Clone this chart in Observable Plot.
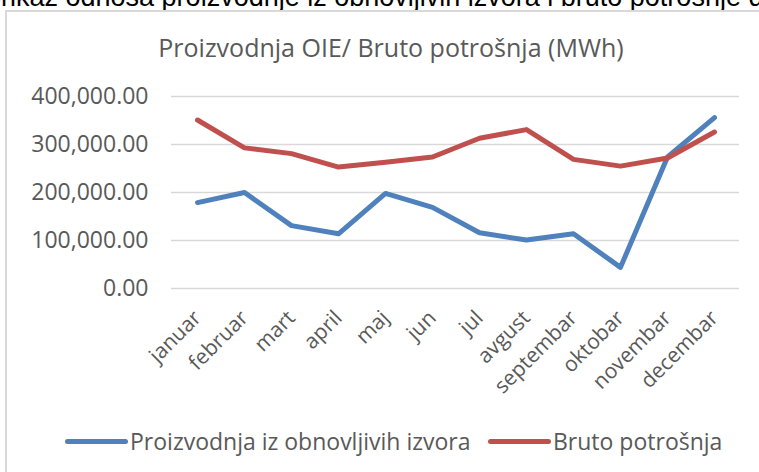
<!DOCTYPE html>
<html>
<head>
<meta charset="utf-8">
<script src="https://cdn.jsdelivr.net/npm/d3@7"></script>
<script src="https://cdn.jsdelivr.net/npm/@observablehq/plot@0.6"></script>
<style>
  html, body { margin: 0; padding: 0; background: #fff; overflow: hidden; }
  #page { position: relative; width: 759px; height: 472px; overflow: hidden; font-family: "Open Sans", sans-serif; }
  #box { position: absolute; left: 5px; top: 10px; width: 800px; height: 520px; border: 2px solid #d9d9d9; box-sizing: border-box; }
  #chart { position: absolute; left: 0; top: 0; }
  #title { position: absolute; left: 0; width: 782px; top: 30px; text-align: center; font-size: 25px; color: #595959; white-space: nowrap; }
  .leg { position: absolute; top: 425px; font-size: 23px; color: #595959; white-space: nowrap; display: flex; align-items: center; }
  .leg .sw { display: inline-block; width: 63px; height: 5px; border-radius: 3px; margin-right: 2px; }
</style>
</head>
<body>
<div id="page">
  <svg id="toptext" width="759" height="12" style="position:absolute;left:0;top:0;overflow:hidden">
    <text x="-14" y="6" font-family="Liberation Sans, Arial, sans-serif" font-size="27" fill="#000">prikaz odnosa proizvodnje iz obnovljivih izvora i bruto potrošnje d</text>
  </svg>
  <div id="box"></div>
  <div id="chart"></div>
  <div id="title">Proizvodnja OIE/ Bruto potrošnja (MWh)</div>
  <div id="legend"></div>
</div>
<script>
const months = ["januar","februar","mart","april","maj","jun","jul","avgust","septembar","oktobar","novembar","decembar"];
const proizvodnja = [179000, 200000, 131000, 114000, 198000, 169000, 116000, 101000, 114000, 44000, 274000, 356000];
const potrosnja = [351000, 293000, 281000, 253000, 263000, 274000, 313000, 331000, 269000, 255000, 272000, 326000];
const seriesNames = ["Proizvodnja iz obnovljivih izvora", "Bruto potrošnja"];
const seriesColors = ["#4f81bd", "#c0504d"];
const yTicks = [0, 100000, 200000, 300000, 400000];

const rows = [];
months.forEach((m, i) => {
  rows.push({month: m, value: proizvodnja[i], series: seriesNames[0]});
  rows.push({month: m, value: potrosnja[i], series: seriesNames[1]});
});

const chart = Plot.plot({
  width: 759,
  height: 400,
  marginTop: 96,
  marginBottom: 112,
  marginLeft: 171,
  marginRight: 20,
  style: {fontFamily: "Open Sans, sans-serif", background: "transparent", overflow: "visible"},
  x: {type: "point", domain: months, padding: 0.5, label: null},
  y: {domain: [0, 400000], label: null},
  color: {domain: seriesNames, range: seriesColors},
  marks: [
    Plot.ruleY(yTicks, {stroke: "#d9d9d9", strokeWidth: 1.5}),
    Plot.axisY({ticks: yTicks, tickSize: 0, tickPadding: 23, tickFormat: d3.format(",.2f"), fontSize: 23, fill: "#595959", label: null}),
    Plot.axisX({tickSize: 0, tickRotate: -45, tickPadding: 26, fontSize: 21, fill: "#595959", label: null}),
    Plot.line(rows, {x: "month", y: "value", z: "series", stroke: "series", strokeWidth: 5, strokeLinecap: "round", strokeLinejoin: "round"})
  ]
});
document.getElementById("chart").appendChild(chart);

const legend = document.getElementById("legend");
const legX = [65, 488];
seriesNames.forEach((name, i) => {
  const d = document.createElement("div");
  d.className = "leg";
  d.style.left = legX[i] + "px";
  d.innerHTML = `<span class="sw" style="background:${seriesColors[i]}"></span><span>${name}</span>`;
  legend.appendChild(d);
});
</script>
</body>
</html>
